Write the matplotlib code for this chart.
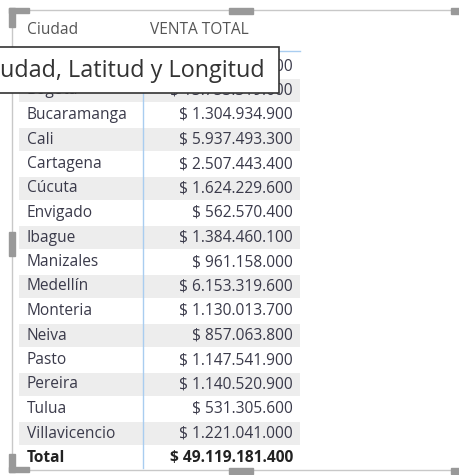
import matplotlib.pyplot as plt
from matplotlib.patches import Rectangle

# datos de la tabla (las dos primeras filas quedan tapadas por el tooltip)
ciudades = ["Barranquilla", "Bogota", "Bucaramanga", "Cali", "Cartagena", "Cúcuta",
            "Envigado", "Ibague", "Manizales", "Medellín", "Monteria", "Neiva",
            "Pasto", "Pereira", "Tulua", "Villavicencio"]
ventas = [8902765600, 13753319600, 1304934900, 5937493300, 2507443400, 1624229600,
          562570400, 1384460100, 961158000, 6153319600, 1130013700, 857063800,
          1147541900, 1140520900, 531305600, 1221041000]
total = 49119181400
encabezados = ["Ciudad", "VENTA TOTAL"]
tooltip = "udad, Latitud y Longitud"

def fmt(v):
    return "$ " + f"{v:,}".replace(",", ".")

W, H = 459, 475
fig = plt.figure(figsize=(W / 100, H / 100), dpi=100)
ax = fig.add_axes([0, 0, 1, 1])
ax.set_xlim(0, W)
ax.set_ylim(H, 0)
ax.axis("off")

font = "Open Sans"
fs = 11.2
txt = "#3a3a4a"
y0, rh = 66, 24.5
x_left, x_div, x_right = 19, 143, 300

# franjas alternas
filas = list(range(len(ciudades)))
ax.barh([y0 + i * rh for i in filas], [x_right - x_left] * len(filas), left=x_left,
        height=rh - 1, color=["white" if i % 2 == 0 else "#ededed" for i in filas], zorder=1)

for i, (c, v) in enumerate(zip(ciudades, ventas)):
    y = y0 + i * rh
    ax.text(27, y, c, fontsize=fs, family=font, color=txt, va="center", zorder=3)
    ax.text(293, y, fmt(v), fontsize=fs, family=font, color=txt, va="center", ha="right", zorder=3)

yt = y0 + len(ciudades) * rh
ax.text(27, yt, "Total", fontsize=fs, family=font, color="#222222", va="center", weight="bold", zorder=3)
ax.text(293, yt, fmt(total), fontsize=fs, family=font, color="#222222", va="center", ha="right",
        weight="bold", zorder=3)

# encabezado
ax.text(27, 30, encabezados[0], fontsize=fs, family=font, color="#555555", va="center")
ax.text(150, 30, encabezados[1], fontsize=fs, family=font, color="#555555", va="center")
ax.plot([x_left, x_right], [51, 51], color="#a9cdf0", lw=1, zorder=2)
ax.plot([x_div, x_div], [51, 468], color="#a9cdf0", lw=1, zorder=2)

# marco del visual
gris = "#c8c8c8"
ax.plot([12, W], [10, 10], color=gris, lw=1)
ax.plot([12, 12], [10, 470], color=gris, lw=1)
ax.plot([12, W], [470, 470], color=gris, lw=1)
oscuro = "#999999"
for r in [(9, 8, 20, 5), (9, 8, 6, 19), (229, 8, 24, 6), (451, 8, 8, 6),
          (9, 232, 6, 24), (9, 454, 6, 18), (9, 467, 20, 5), (229, 468, 24, 6),
          (451, 468, 8, 6)]:
    ax.add_patch(Rectangle((r[0], r[1]), r[2], r[3], color=oscuro, zorder=5))

# tooltip
ax.add_patch(Rectangle((-2, 47), 281, 46, facecolor="white", edgecolor="#333333", lw=1.2, zorder=6))
ax.text(0, 71, tooltip, fontsize=16.8, family=font, color="#333333", va="center", zorder=7)

fig.savefig("out.png", dpi=100)
